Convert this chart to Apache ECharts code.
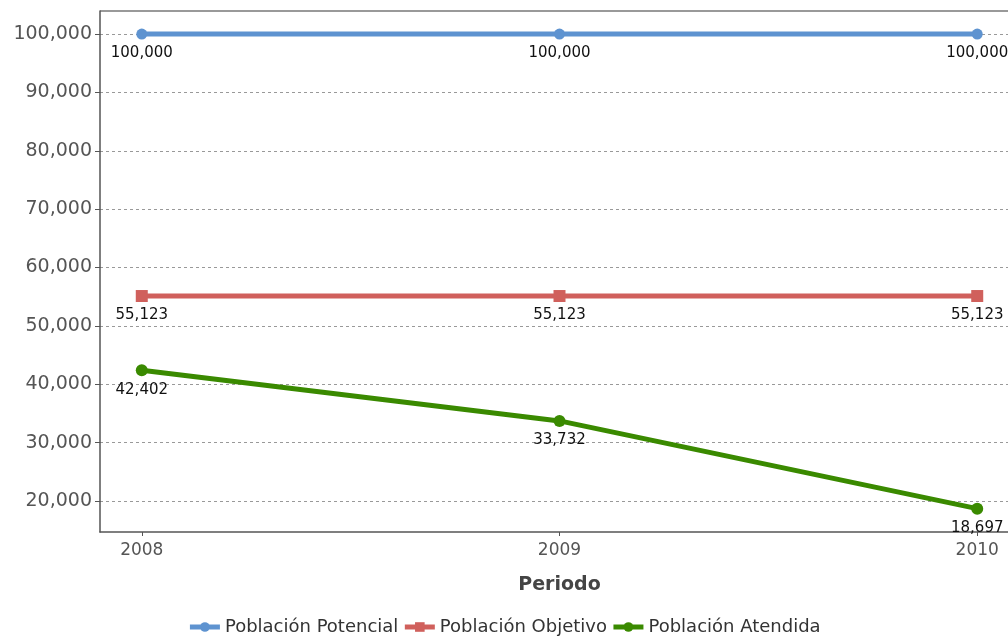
<!DOCTYPE html>
<html>
<head>
<meta charset="utf-8">
<script src="https://cdn.jsdelivr.net/npm/echarts@6/dist/echarts.min.js"></script>
<style>
  html, body { margin: 0; padding: 0; background: #fff; }
  #main { width: 1008px; height: 643px; }
</style>
</head>
<body>
<div id="main"></div>
<script>
// datos del gráfico
var periodos = [2008, 2009, 2010];
var potencial = [100000, 100000, 100000];
var objetivo = [55123, 55123, 55123];
var atendida = [42402, 33732, 18697];
var yTicks = [20000, 30000, 40000, 50000, 60000, 70000, 80000, 90000, 100000];

var myChart = echarts.init(document.getElementById('main'));

function fmt(v) {
    return String(v).replace(/\B(?=(\d{3})+(?!\d))/g, ',');
}

function pares(vals) {
    return periodos.map(function (p, i) { return [p, vals[i]]; });
}

function serie(name, vals, color, symbol, size) {
    return {
        name: name,
        type: 'line',
        data: pares(vals),
        symbol: symbol,
        symbolSize: size,
        lineStyle: { color: color, width: 5 },
        itemStyle: { color: color },
        label: {
            show: true,
            position: 'bottom',
            distance: 6,
            color: '#111',
            fontSize: 15,
            fontFamily: 'DejaVu Sans',
            formatter: function (p) { return fmt(p.value[1]); }
        },
        z: 3
    };
}

var option = {
    animation: false,
    textStyle: { fontFamily: 'DejaVu Sans' },
    grid: { left: 100, width: 919, top: 11, bottom: 111, outerBoundsMode: 'none', containLabel: false },
    legend: {
        bottom: 2,
        left: 'center',
        itemWidth: 30,
        itemHeight: 12,
        itemGap: 4,
        lineStyle: { width: 5 },
        textStyle: { fontSize: 18, color: '#333', fontFamily: 'DejaVu Sans' },
        data: ['Población Potencial', 'Población Objetivo', 'Población Atendida']
    },
    xAxis: {
        type: 'value',
        min: 2007.9,
        max: 2010.1,
        name: 'Periodo',
        nameLocation: 'middle',
        nameGap: 44,
        nameTextStyle: { fontSize: 19, fontWeight: 'bold', color: '#444' },
        axisLine: { lineStyle: { color: '#555', width: 1.5 } },
        axisTick: { show: true, length: 4, customValues: periodos, lineStyle: { color: '#555' } },
        axisLabel: { customValues: periodos, fontSize: 17, color: '#555', margin: 10,
            formatter: function (v) { return String(v); } },
        splitLine: { show: false }
    },
    yAxis: {
        type: 'value',
        min: 14700,
        max: 103950,
        axisLine: { show: true, lineStyle: { color: '#555', width: 1.5 } },
        axisTick: { show: true, length: 5, customValues: yTicks, lineStyle: { color: '#555' } },
        axisLabel: { customValues: yTicks, fontSize: 19, color: '#555', margin: 8, formatter: fmt },
        splitLine: { show: true, customValues: yTicks, lineStyle: { color: '#999', type: [3, 3], width: 1 } }
    },
    graphic: [{
        type: 'line',
        shape: { x1: 100, y1: 11, x2: 1008, y2: 11 },
        style: { stroke: '#777', lineWidth: 1.5 }
    }],
    series: [
        serie('Población Potencial', potencial, '#5e93d0', 'circle', 11),
        serie('Población Objetivo', objetivo, '#d0605c', 'rect', 12),
        serie('Población Atendida', atendida, '#3a8a00', 'circle', 12)
    ]
};

myChart.setOption(option);
</script>
</body>
</html>
